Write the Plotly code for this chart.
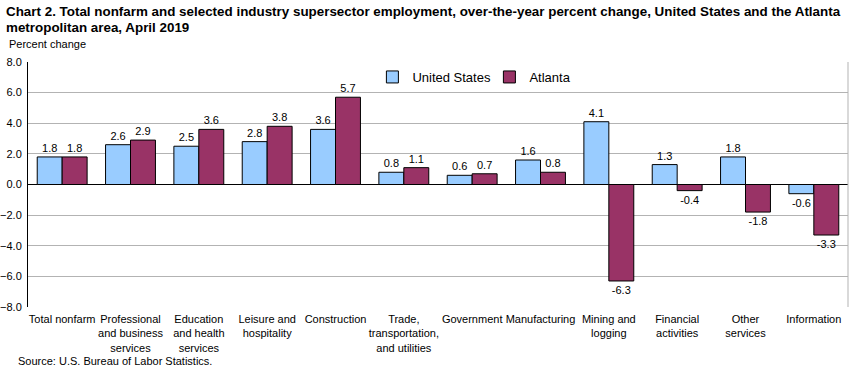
import plotly.graph_objects as go

categories = ["Total nonfarm", "Professional<br>and business<br>services", "Education<br>and health<br>services",
              "Leisure and<br>hospitality", "Construction", "Trade,<br>transportation,<br>and utilities",
              "Government", "Manufacturing", "Mining and<br>logging", "Financial<br>activities",
              "Other<br>services", "Information"]
us_values = [1.8, 2.6, 2.5, 2.8, 3.6, 0.8, 0.6, 1.6, 4.1, 1.3, 1.8, -0.6]
atl_values = [1.8, 2.9, 3.6, 3.8, 5.7, 1.1, 0.7, 0.8, -6.3, -0.4, -1.8, -3.3]
y_ticks = [-8, -6, -4, -2, 0, 2, 4, 6, 8]

font = "Liberation Sans, Arial, sans-serif"

fig = go.Figure()
fig.add_trace(go.Bar(
    name="United States", x=categories, y=us_values,
    marker=dict(color="#99CCFF", line=dict(color="#000000", width=1)),
    text=[f"{v:.1f}" for v in us_values], textposition="outside",
    textfont=dict(size=11, color="#000000", family=font), cliponaxis=False,
))
fig.add_trace(go.Bar(
    name="Atlanta", x=categories, y=atl_values,
    marker=dict(color="#993366", line=dict(color="#000000", width=1)),
    text=[f"{v:.1f}" for v in atl_values], textposition="outside",
    textfont=dict(size=11, color="#000000", family=font), cliponaxis=False,
))

fig.update_layout(
    width=854, height=369,
    margin=dict(l=28, r=6, t=62, b=62, autoexpand=False),
    paper_bgcolor="white", plot_bgcolor="white",
    barmode="group", bargap=0.27, bargroupgap=0,
    font=dict(family=font, size=11, color="#000000"),
    legend=dict(orientation="h", x=0.42, xanchor="left", y=1.0, yanchor="top",
                font=dict(size=13, family=font), bgcolor="rgba(0,0,0,0)",
                itemwidth=30, entrywidth=72, traceorder="normal"),
    showlegend=True,
    xaxis=dict(showline=False, ticks="", tickfont=dict(size=11), tickangle=0,
               automargin=False, ticklabelstandoff=4),
    yaxis=dict(range=[-8, 8], tickvals=y_ticks, tickformat=".1f",
               showgrid=True, gridcolor="#B3B3B3", gridwidth=1,
               zeroline=True, zerolinecolor="#000000", zerolinewidth=1,
               showline=True, linecolor="#000000", linewidth=1,
               ticks="", tickfont=dict(size=11), automargin=False,
               ticklabelstandoff=3),
    annotations=[
        dict(text="<b>Chart 2. Total nonfarm and selected industry supersector employment, over-the-year percent change, United States and the Atlanta</b>",
             xref="paper", yref="paper", x=-0.029, y=1.245, xanchor="left", yanchor="top",
             align="left", showarrow=False, font=dict(size=13.4, family=font)),
        dict(text="<b>metropolitan area, April 2019</b>",
             xref="paper", yref="paper", x=-0.029, y=1.18, xanchor="left", yanchor="top",
             align="left", showarrow=False, font=dict(size=13.4, family=font)),
        dict(text="Percent change", xref="paper", yref="paper", x=-0.026, y=1.04,
             xanchor="left", yanchor="bottom", showarrow=False, font=dict(size=11)),
        dict(text="Source: U.S. Bureau of Labor Statistics.", xref="paper", yref="paper",
             x=-0.015, y=-0.188, xanchor="left", yanchor="top", showarrow=False,
             font=dict(size=11)),
    ],
    shapes=[
        dict(type="line", xref="paper", yref="paper", x0=1, x1=1, y0=0, y1=1,
             line=dict(color="#B3B3B3", width=1)),
    ],
)

fig.write_html("out.html", config={"displayModeBar": False},
               post_script="document.body.style.margin='0';document.body.style.padding='0';")
